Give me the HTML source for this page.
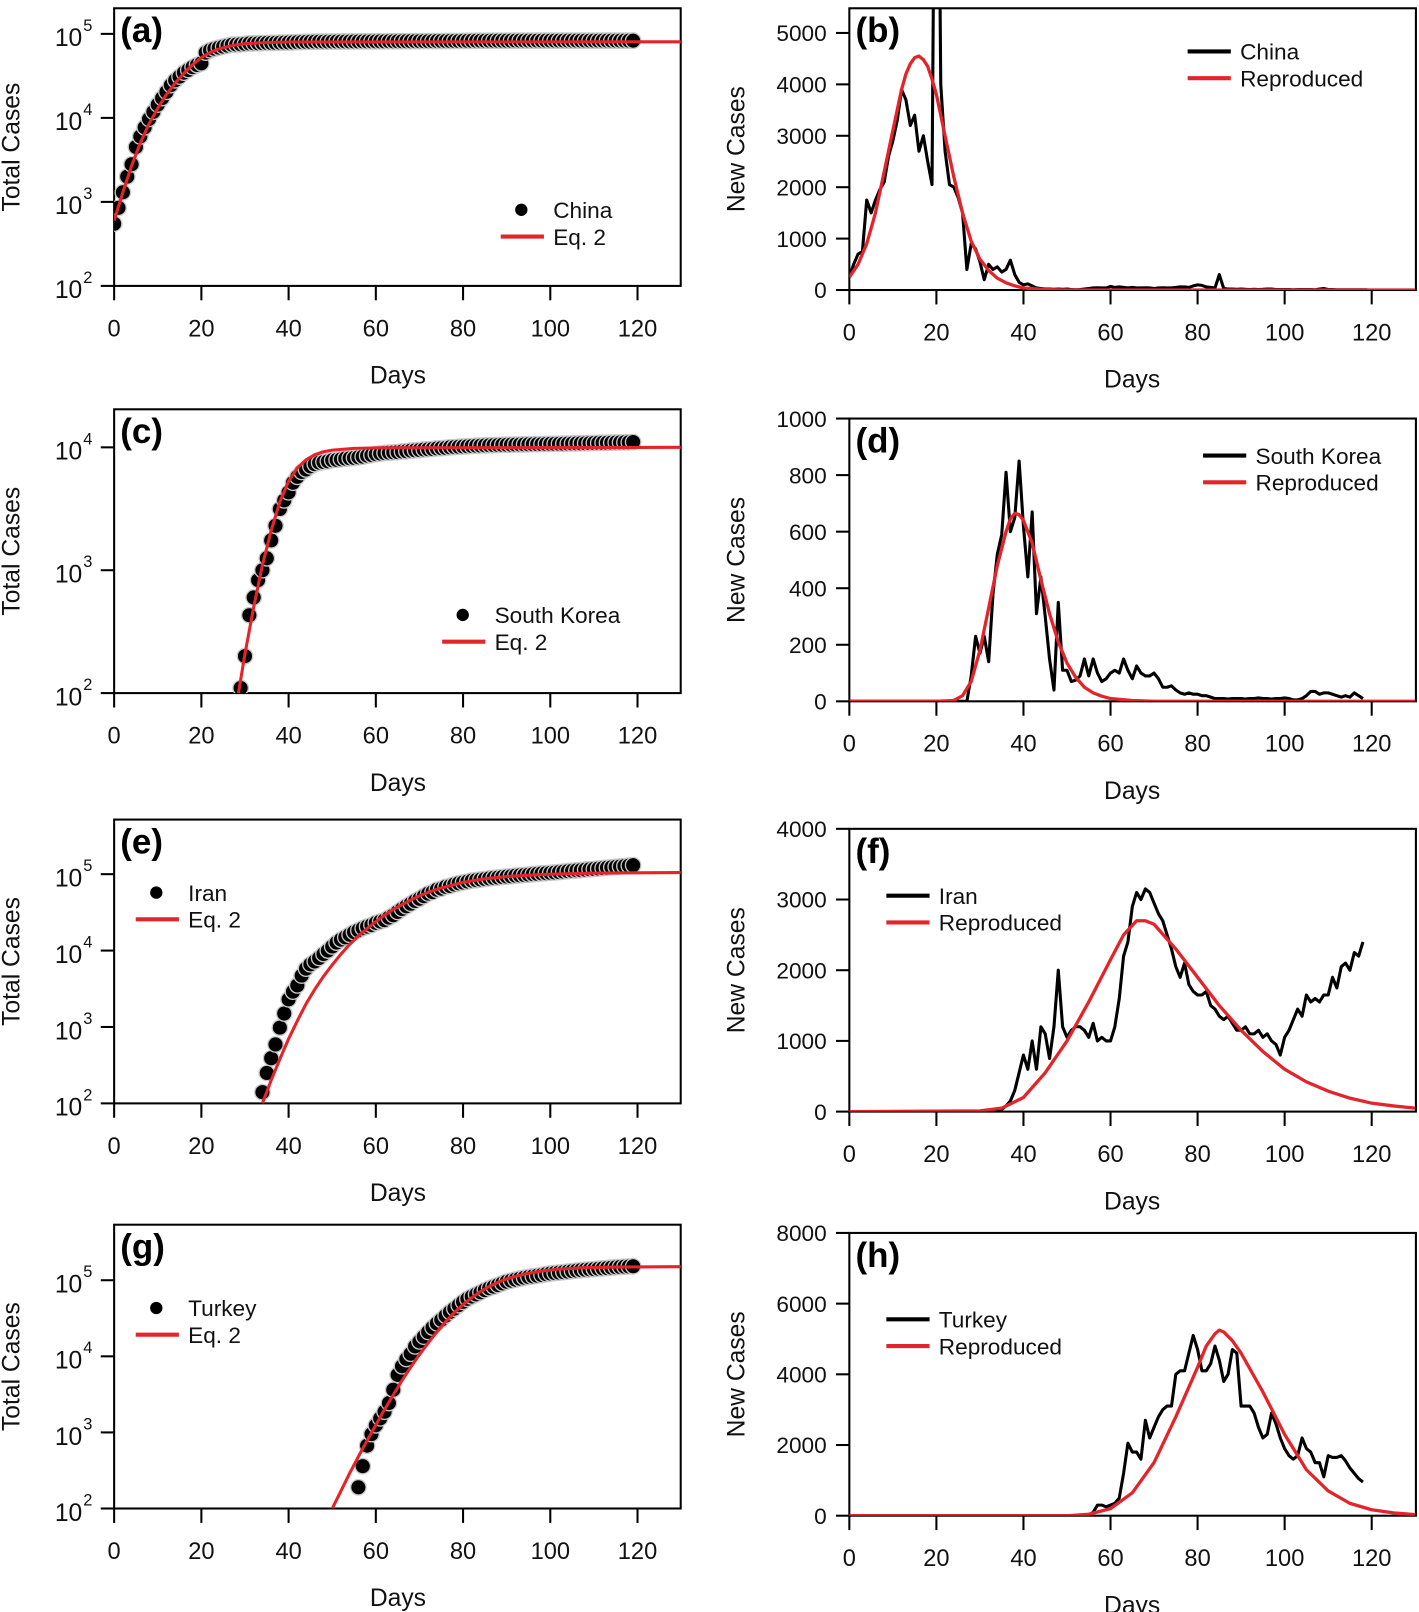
<!DOCTYPE html>
<html><head><meta charset="utf-8">
<style>
html,body{margin:0;padding:0;background:#fff;}
svg{display:block;font-family:"Liberation Sans",Arial,sans-serif;}
</style></head>
<body>
<svg id="fig" width="1419" height="1612" viewBox="0 0 1380 1567.6" xmlns="http://www.w3.org/2000/svg"></svg>
<script>
// ---------- DATA ----------
const xTicks = [0,20,40,60,80,100,120];

// (a) China total cases, daily from day 0
const chinaTotalStart = 0;
const chinaTotal = [550,850,1300,2000,2800,4500,6000,7700,9700,11800,
14400,17200,20400,24500,28000,31000,34500,37200,40200,42600,
44600,59800,63800,66500,68500,70500,72400,74200,74600,75100,
75900,76900,77000,77300,77700,78000,78100,78200,78600,78800,
79000,79300,79800,80000,80200,80400,80700,80800,80800,80900,
80900,81000,81000,81100,81100,81200,81200,81300,81300,81400,
81400,81500,81500,81600,81600,81700,81700,81800,81800,81900,
81900,82000,82000,82000,82100,82100,82200,82200,82300,82300,
82400,82500,82600,82700,82800,82800,82800,82900,82900,82900,
82900,82900,83000,83000,83000,83000,83000,83000,83000,83000,
83000,83000,83000,83000,83000,83000,83000,83000,83000,83000,
83000,83000,83000,83000,83000,83000,83000,83000,83000,83000];
const chinaFitDays = [0,2,4,6,8,10,12,14,16,18,20,22,24,26,28,30,35,40,130];
const chinaFitVals = [600,1300,2700,5000,8500,13000,19000,26000,34000,43000,52000,60000,66000,70500,74000,76500,79000,80000,80500];

// (b) China new cases
const chinaNewStart = 0;
const chinaNew = [250,500,700,750,1750,1500,1750,1950,2100,2600,
2900,3300,3900,3700,3200,3400,2700,3000,2500,2050,
14000,4000,2700,2050,2000,1800,1500,400,900,800,
550,200,500,400,450,350,400,580,300,150,
100,120,80,40,30,20,20,15,20,15,
20,10,5,10,20,30,40,45,40,40,
70,50,60,50,40,50,40,40,45,40,
30,40,45,40,40,50,60,60,50,80,
100,90,60,50,40,300,30,20,20,15,
20,15,10,15,10,15,20,20,10,10,
10,10,5,10,10,10,10,5,20,30,
10,10,5,5,5,5,5,5,5,5];
const chinaRepDays = [0,2,4,6,8,10,12,13,14,15,16,17,18,19,20,22,24,26,28,30,32,34,36,38,40,45,50,130];
const chinaRepVals = [250,500,900,1500,2300,3100,3900,4200,4400,4520,4550,4480,4350,4100,3800,3000,2200,1500,950,600,380,230,140,80,40,10,0,0];

// (c) South Korea total
const skTotalStart = 29;
const skTotal = [110,200,430,600,830,1000,1250,1750,2300,3150,
3700,4300,5150,5750,6300,6600,7000,7300,7500,7600,
7700,7850,7900,8000,8100,8150,8200,8300,8400,8550,
8650,8800,8900,9000,9050,9100,9150,9250,9300,9400,
9450,9500,9600,9650,9700,9800,9850,9900,10000,10050,
10100,10150,10200,10250,10300,10330,10360,10400,10420,10450,
10480,10500,10510,10530,10540,10560,10580,10600,10610,10620,
10640,10660,10670,10680,10700,10720,10740,10760,10780,10800,
10820,10840,10860,10880,10900,10920,10940,10960,10980,11000,11050];
const skFitDays = [28.5,30,32,34,36,38,40,42,44,46,48,50,55,60,130];
const skFitVals = [100,210,500,1100,2100,3600,5300,6800,7900,8700,9200,9500,9800,9900,10000];

// (d) South Korea new
const skNewStart = 0;
const skNew = [0,0,0,0,0,0,0,0,0,0,0,0,0,0,0,0,0,0,0,0,0,0,0,0,0,0,0,0,
90,230,170,230,140,380,520,590,810,600,
650,850,620,440,670,310,440,300,150,40,
350,110,110,70,75,90,150,90,150,100,
70,80,100,110,100,150,110,80,125,100,
90,90,100,80,50,50,55,40,30,25,
30,25,25,20,20,15,10,10,10,8,
10,10,10,8,10,10,12,10,10,8,
10,10,12,10,5,5,10,20,35,35,
25,30,30,25,20,15,20,15,30,20,10];
const skRepDays = [0,20,24,26,28,30,32,34,36,37,38,39,40,42,44,46,48,50,52,54,56,58,60,65,70,130];
const skRepVals = [0,0,3,20,70,180,330,480,600,645,665,660,640,560,430,310,210,135,85,50,30,18,10,3,0,0];

// (e) Iran total
const iranTotalStart = 34;
const iranTotal = [140,250,390,590,980,1500,2300,2900,3500,4700,
5800,6600,7200,8000,9000,10000,11300,12700,13900,14900,
16100,17400,18400,19600,20600,21600,23000,24000,25000,27000,
29000,32000,35000,38000,41000,44600,47600,51500,55700,58200,
62600,64600,68200,70000,73300,76000,77900,80000,82200,83500,
85000,86500,88000,89300,90500,91800,93000,94000,95600,96500,
97400,98600,100000,101000,102300,103100,104000,105000,106500,108000,
109500,110700,112000,113000,114500,116000,117000,118400,120000,121500,
123000,124500,126000,127600,129300,131000];
const iranFitDays = [34,36,38,40,42,44,46,48,50,52,54,56,58,60,62,64,66,68,70,72,75,80,85,90,95,100,110,120,130];
const iranFitVals = [100,200,380,700,1200,2000,3100,4600,6500,9000,12000,15500,19500,24000,29000,34500,40000,46000,52000,58000,66000,78000,87000,93000,97000,100000,103000,104000,105000];

// (f) Iran new
const iranNewStart = 0;
const iranNew = [0,0,0,0,0,0,0,0,0,0,0,0,0,0,0,0,0,0,0,0,0,0,0,0,0,0,0,0,0,0,0,0,0,0,0,
30,80,150,300,550,800,600,1000,600,1200,
1100,750,1200,2000,1200,1050,1150,1200,1200,1150,
1050,1250,1000,1050,1000,1000,1200,1600,2200,2400,
2900,3100,3000,3150,3100,2950,2800,2700,2500,2300,
2050,1900,2100,1800,1700,1650,1650,1700,1500,1450,
1350,1300,1350,1250,1150,1150,1200,1100,1100,1150,
1050,1100,1000,950,800,1050,1150,1300,1450,1350,
1650,1550,1600,1550,1650,1650,1900,1750,2050,2100,
2000,2250,2200,2400];
const iranRepDays = [0,30,35,40,45,50,55,60,63,66,68,70,75,80,85,90,95,100,105,110,115,120,125,130];
const iranRepVals = [0,10,50,200,550,1000,1550,2150,2500,2700,2700,2650,2300,1900,1500,1150,850,600,420,290,190,120,80,50];

// (g) Turkey total
const trTotalStart = 56;
const trTotal = [190,360,670,950,1240,1530,1870,2430,3630,5700,
7400,9200,10800,13500,15700,18100,20900,23900,27100,30200,
34100,38200,42300,47000,52000,56900,61000,65100,69400,74200,
78500,82300,86300,90900,95600,98700,101800,104900,107800,110100,
112300,114600,117000,120200,122400,124400,126000,127600,129500,131700,
133700,135600,137100,138600,139700,141500,143100,144700,146500,148100,
149400,150600,151600,152600];
const trFitDays = [50,52,54,56,58,60,62,64,66,68,70,72,74,76,78,80,82,84,86,88,90,94,98,102,108,115,130];
const trFitVals = [100,170,290,480,780,1250,2000,3100,4800,7200,10500,15000,21000,28500,37500,48000,59000,71000,83000,94000,104000,120000,132000,140000,146000,149000,151000];

// (h) Turkey new
const trNewStart = 0;
const trNew = [0,0,0,0,0,0,0,0,0,0,0,0,0,0,0,0,0,0,0,0,0,0,0,0,0,0,0,0,0,0,0,0,0,0,0,0,0,0,0,0,0,0,0,0,0,0,0,0,0,0,0,0,0,0,0,0,
100,300,300,250,300,350,500,1200,2050,1800,
1800,1600,2700,2200,2500,2800,3000,3100,3100,4000,
4100,4100,4600,5100,4700,4100,4100,4300,4800,4400,
3800,4000,4700,4600,3100,3100,3100,2900,2500,2200,
2300,2900,2600,2200,1900,1700,1600,1700,2200,1900,
1800,1500,1500,1100,1700,1650,1650,1700,1550,1350,
1200,1050,950];
const trRepDays = [0,50,55,60,65,70,75,80,82,84,85,86,88,90,95,100,105,110,115,120,125,130];
const trRepVals = [0,0,40,200,650,1500,2800,4200,4800,5150,5250,5200,4950,4600,3500,2300,1300,700,350,170,80,30];

// ---------- DRAWING ----------
const NS = "http://www.w3.org/2000/svg";
const svg = document.getElementById('fig');
const RED = "#e3242b";
function mk(tag, attrs, parent){
  const e = document.createElementNS(NS, tag);
  for (const k in attrs) e.setAttribute(k, attrs[k]);
  (parent||svg).appendChild(e);
  return e;
}

function panel(p){
  const g = mk('g', {});
  
  
  const x0 = p.left ? 111 : 826, x1 = p.left ? 662 : 1377;
  const pxPerDay = p.left ? (620-111)/120 : (1334-826)/120;
  const xs = d => x0 + d * pxPerDay;
  let ys;
  if (p.log) ys = v => p.y2 - (Math.log10(Math.max(v,1)) - 2) * p.dec;
  else ys = v => p.zeroY - v * (p.zeroY - p.topTickY) / p.topTick;

  const cid = 'clip-' + p.id;
  const cp = mk('clipPath', {id: cid}, g);
  mk('rect', {x: x0, y: p.top, width: x1-x0, height: p.bottom-p.top}, cp);

  const box = mk('rect', {x:x0, y:p.top, width:x1-x0, height:p.bottom-p.top, fill:'none', stroke:'#000', 'stroke-width':2}, g);
  
  

  const xa = mk('g', {}, g);
  
  
  xTicks.forEach(t => {
    mk('line', {x1: xs(t), x2: xs(t), y1: p.bottom, y2: p.bottom+14, stroke:'#000', 'stroke-width':2}, xa);
    const tx = mk('text', {x: xs(t), y: p.bottom+49, 'font-size':23, 'text-anchor':'middle', fill:'#111'}, xa);
    tx.textContent = t;
  });
  const xt = mk('text', {x: p.left ? 387 : 1101, y: p.bottom+95, 'font-size':24, 'text-anchor':'middle', fill:'#111'}, g);
  xt.textContent = 'Days';
  
  

  const ya = mk('g', {}, g);
  
  
  p.yTicks.forEach(t => {
    const y = ys(t);
    mk('line', {x1: x0-13, x2: x0, y1: y, y2: y, stroke:'#000', 'stroke-width':2}, ya);
    if (p.log) {
      const tx = mk('text', {x: x0-31, y: y+12, 'font-size':24, 'text-anchor':'end', fill:'#111'}, ya);
      tx.textContent = '10';
      const sp = mk('text', {x: x0-30, y: y-3, 'font-size':16, 'text-anchor':'start', fill:'#111'}, ya);
      sp.textContent = String(Math.round(Math.log10(t)));
    } else {
      const tx = mk('text', {x: x0-22, y: y+8, 'font-size':22, 'text-anchor':'end', fill:'#111'}, ya);
      tx.textContent = t;
    }
  });
  const cy = (p.top + p.bottom)/2;
  const ytx = p.left ? 19 : 724;
  const yt = mk('text', {x: ytx, y: cy, 'font-size':24, 'text-anchor':'middle', fill:'#111', transform:`rotate(-90 ${ytx} ${cy})`}, g);
  yt.textContent = p.left ? 'Total Cases' : 'New Cases';
  
  

  const plot = mk('g', {'clip-path': `url(#${cid})`}, g);
  if (p.left) {
    const dg = mk('g', {}, plot);
    
    
    p.obs.forEach((v,i) => {
      const c = mk('circle', {cx: xs(p.obsStart+i), cy: ys(v), r: 7.5, fill:'#000', stroke:'#c8c8c8', 'stroke-width':1.3}, dg);
      
      
    });
    const pts = p.fitDays.map((d,i) => xs(d).toFixed(1)+','+ys(p.fitVals[i]).toFixed(1)).join(' ');
    const pl = mk('polyline', {points: pts, fill:'none', stroke:RED, 'stroke-width':3, 'stroke-linejoin':'round'}, plot);
    
    
  } else {
    const pts = p.obs.map((v,i) => xs(p.obsStart+i).toFixed(1)+','+ys(v).toFixed(1)).join(' ');
    const pl = mk('polyline', {points: pts, fill:'none', stroke:'#000', 'stroke-width':3, 'stroke-linejoin':'round'}, plot);
    
    
    const pts2 = p.fitDays.map((d,i) => xs(d).toFixed(1)+','+ys(p.fitVals[i]).toFixed(1)).join(' ');
    const pl2 = mk('polyline', {points: pts2, fill:'none', stroke:RED, 'stroke-width':3.2, 'stroke-linejoin':'round'}, plot);
    
    
  }

  const lb = mk('text', {x: x0+6, y: p.top+33, 'font-size':34, 'font-weight':'bold', fill:'#000'}, g);
  lb.textContent = '(' + p.id + ')';
  
  

  const lg = mk('g', {}, g);
  
  
  const L = p.legend;
  if (p.left) {
    mk('circle', {cx: L.x+20, cy: L.y, r: 6, fill:'#000'}, lg);
  } else {
    mk('line', {x1: L.x, x2: L.x+42, y1: L.y, y2: L.y, stroke:'#000', 'stroke-width':4}, lg);
  }
  const t1 = mk('text', {x: L.x+51, y: L.y+8, 'font-size':22, fill:'#111'}, lg);
  t1.textContent = p.name;
  mk('line', {x1: L.x, x2: L.x+42, y1: L.y+26, y2: L.y+26, stroke:RED, 'stroke-width':4}, lg);
  const t2 = mk('text', {x: L.x+51, y: L.y+34, 'font-size':22, fill:'#111'}, lg);
  t2.textContent = p.left ? 'Eq. 2' : 'Reproduced';
}

panel({id:'a', left:true, log:true, top:8, bottom:278, y2:278, dec:81.7, yTicks:[100,1000,10000,100000],
  obs:chinaTotal, obsStart:chinaTotalStart, fitDays:chinaFitDays, fitVals:chinaFitVals, name:'China', legend:{x:487,y:204}});
panel({id:'b', left:false, log:false, top:8, bottom:282, zeroY:282, topTickY:32, topTick:5000, yTicks:[0,1000,2000,3000,4000,5000],
  obs:chinaNew, obsStart:chinaNewStart, fitDays:chinaRepDays, fitVals:chinaRepVals, name:'China', legend:{x:1155,y:50}});
panel({id:'c', left:true, log:true, top:398, bottom:674, y2:674, dec:119.5, yTicks:[100,1000,10000],
  obs:skTotal, obsStart:skTotalStart, fitDays:skFitDays, fitVals:skFitVals, name:'South Korea', legend:{x:430,y:598}});
panel({id:'d', left:false, log:false, top:407, bottom:682, zeroY:682, topTickY:407, topTick:1000, yTicks:[0,200,400,600,800,1000],
  obs:skNew, obsStart:skNewStart, fitDays:skRepDays, fitVals:skRepVals, name:'South Korea', legend:{x:1170,y:443}});
panel({id:'e', left:true, log:true, top:797, bottom:1073, y2:1073, dec:74.3, yTicks:[100,1000,10000,100000],
  obs:iranTotal, obsStart:iranTotalStart, fitDays:iranFitDays, fitVals:iranFitVals, name:'Iran', legend:{x:132,y:868}});
panel({id:'f', left:false, log:false, top:806, bottom:1081, zeroY:1081, topTickY:806, topTick:4000, yTicks:[0,1000,2000,3000,4000],
  obs:iranNew, obsStart:iranNewStart, fitDays:iranRepDays, fitVals:iranRepVals, name:'Iran', legend:{x:862,y:871}});
panel({id:'g', left:true, log:true, top:1191, bottom:1467, y2:1467, dec:74, yTicks:[100,1000,10000,100000],
  obs:trTotal, obsStart:trTotalStart, fitDays:trFitDays, fitVals:trFitVals, name:'Turkey', legend:{x:132,y:1272}});
panel({id:'h', left:false, log:false, top:1199, bottom:1474, zeroY:1474, topTickY:1199, topTick:8000, yTicks:[0,2000,4000,6000,8000],
  obs:trNew, obsStart:trNewStart, fitDays:trRepDays, fitVals:trRepVals, name:'Turkey', legend:{x:862,y:1283}});
</script>
</body></html>
